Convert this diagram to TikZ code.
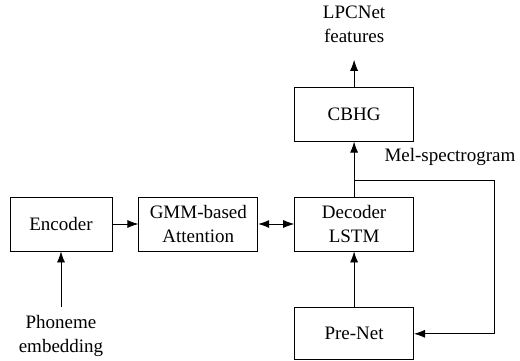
\documentclass[tikz,border=0pt]{standalone}
\usepackage{fontspec}
\setmainfont{Liberation Serif}
\usepackage{tikz}
\usetikzlibrary{arrows.meta,positioning,calc}

\begin{document}
\begin{tikzpicture}[font=\fontsize{19}{23.5}\selectfont, >={Latex[length=11pt,width=8pt]}, line width=0.8pt]
\tikzset{box/.style={draw, minimum width=119pt, minimum height=54pt, align=center, inner sep=2pt}, encbox/.style={box, minimum width=102pt}, lbl/.style={align=center, inner xsep=2pt, inner ysep=8pt}, arr/.style={->}}
\useasboundingbox (0,0) rectangle (520pt,-361pt);
% encoder / attention / decoder row
\node[encbox] (enc) at (61pt,-224pt) {Encoder};
\node[box, right=26pt of enc] (gmm) {GMM-based\\Attention};
\node[box, right=36pt of gmm] (dec) {Decoder\\LSTM};
\node[box, above=55pt of dec] (cbhg) {CBHG};
\node[box, minimum height=52pt, below=56pt of dec] (pre) {Pre-Net};
% inputs and outputs
\node[lbl, below=56pt of enc] (phon) {Phoneme\\embedding};
\node[lbl, inner ysep=17pt, above=27pt of cbhg] (lpc) {LPCNet\\features};
\coordinate (split) at ($(dec.north)+(0,16pt)$);
\coordinate (turn) at ($(split)+(140.5pt,0)$);
\node[lbl, anchor=west] (mel) at ($(split)+(28pt,24pt)$) {Mel-spectrogram};
\draw[arr] (phon)--(enc);
\draw[arr] (enc)--(gmm);
\draw[<->] (gmm)--(dec);
\draw[arr] (dec)--(cbhg);
\draw[arr] (cbhg)--(lpc);
\draw[arr] (pre)--(dec);
\draw[arr] (split)--(turn) |- (pre);
\end{tikzpicture}
\end{document}
